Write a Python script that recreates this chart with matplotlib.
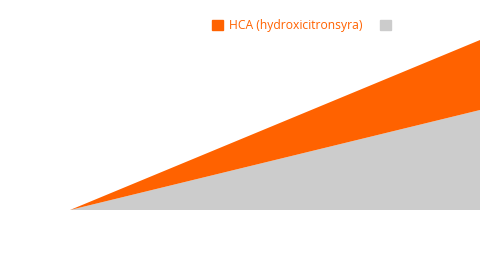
import matplotlib
matplotlib.use("Agg")
import matplotlib.pyplot as plt
from matplotlib.patches import Patch

# data
x = [0, 1]
gray_vals = [0, 100]
hca_vals = [0, 70]
series_labels = ["HCA (hydroxicitronsyra)", ""]
orange = "#ff6200"
gray = "#cccccc"

plt.rcParams['font.family'] = ['Open Sans', 'DejaVu Sans']

fig = plt.figure(figsize=(5, 2.6), dpi=100)
ax = fig.add_axes([0.14, 0.1923, 0.82, 0.6538])

ax.stackplot(x, gray_vals, hca_vals, colors=[gray, orange], linewidth=0)
ax.set_xlim(0, 1)
ax.set_ylim(0, 170)
ax.axis('off')

handles = [Patch(color=orange), Patch(color=gray)]
leg = fig.legend(handles, series_labels, loc='center', ncol=2,
                 bbox_to_anchor=(0.609, 0.9), frameon=False,
                 fontsize=8.7, handlelength=0.85, handleheight=0.85,
                 handletextpad=0.5, columnspacing=1.5)
leg.get_texts()[0].set_color(orange)

fig.savefig("out.png", dpi=100)
